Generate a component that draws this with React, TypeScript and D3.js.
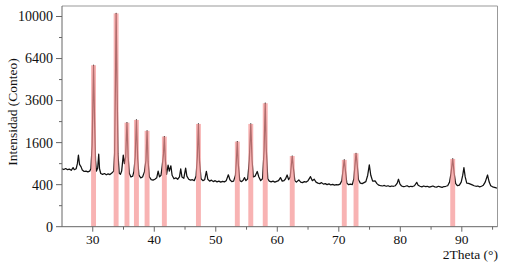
import React from "react";
import * as d3 from "d3";

const W = 507;
const H = 264;

// Reference bars (2θ position, intensity)
const barPos = [30.13, 33.8, 35.56, 37.1, 38.83, 41.64, 47.18, 53.5, 55.69, 58.04, 62.43, 70.89, 72.8, 88.52];
const barVal = [5900, 10300, 2450, 2580, 2080, 1840, 2390, 1640, 2390, 3450, 1130, 1010, 1220, 1040];

// Diffraction pattern (2θ, counts)
const pattern: [number, number][] = [
  [25.0, 760], [25.3, 740], [25.6, 765], [25.9, 735], [26.2, 750], [26.5, 720], [26.8, 790], [27.0, 735],
  [27.3, 760], [27.5, 900], [27.67, 1160], [27.85, 880], [28.1, 810], [28.3, 730], [28.6, 690], [28.9, 700],
  [29.2, 680], [29.5, 700], [29.7, 760], [29.9, 1500], [30.0, 3000], [30.13, 5900], [30.3, 2500], [30.45, 1000],
  [30.6, 700], [30.8, 780], [30.97, 1190], [31.1, 760], [31.3, 640], [31.6, 620], [31.9, 640], [32.2, 610],
  [32.5, 630], [32.8, 615], [33.1, 650], [33.4, 700], [33.55, 1200], [33.7, 5000], [33.8, 10300], [33.95, 4500],
  [34.1, 1200], [34.3, 650], [34.5, 620], [34.7, 700], [34.96, 1160], [35.15, 900], [35.35, 1100], [35.56, 2450],
  [35.75, 1100], [35.95, 640], [36.2, 560], [36.5, 580], [36.7, 700], [36.9, 1100], [37.1, 2580], [37.3, 1050],
  [37.5, 600], [37.8, 540], [38.1, 560], [38.4, 680], [38.65, 1000], [38.83, 2080], [39.0, 950], [39.2, 560],
  [39.5, 500], [39.8, 490], [40.1, 510], [40.4, 540], [40.63, 700], [40.85, 560], [41.1, 600], [41.3, 850],
  [41.5, 1200], [41.64, 1840], [41.8, 1000], [42.0, 620], [42.25, 860], [42.45, 700], [42.7, 840], [42.9, 600],
  [43.2, 520], [43.5, 540], [43.8, 510], [44.1, 560], [44.3, 755], [44.5, 560], [44.8, 530], [45.1, 775],
  [45.3, 580], [45.6, 510], [45.9, 490], [46.2, 500], [46.5, 480], [46.8, 580], [47.0, 1100], [47.18, 2390],
  [47.35, 1000], [47.6, 520], [47.9, 480], [48.2, 500], [48.47, 690], [48.7, 510], [49.0, 470], [49.3, 490],
  [49.6, 460], [49.9, 480], [50.2, 455], [50.5, 470], [50.8, 450], [51.1, 465], [51.4, 455], [51.7, 480],
  [52.04, 610], [52.3, 500], [52.6, 460], [52.9, 470], [53.2, 600], [53.35, 1000], [53.5, 1640], [53.65, 900],
  [53.9, 480], [54.2, 460], [54.45, 490], [54.68, 545], [54.9, 480], [55.2, 520], [55.45, 1000], [55.69, 2390],
  [55.9, 1000], [56.1, 560], [56.4, 580], [56.74, 690], [57.0, 560], [57.3, 480], [57.6, 520], [57.85, 1300],
  [58.04, 3450], [58.2, 1400], [58.45, 520], [58.7, 470], [59.0, 455], [59.3, 470], [59.6, 450], [59.9, 465],
  [60.2, 480], [60.52, 545], [60.8, 470], [61.1, 480], [61.35, 520], [61.6, 605], [61.85, 500], [62.1, 560],
  [62.25, 800], [62.43, 1130], [62.6, 800], [62.85, 480], [63.1, 450], [63.5, 495], [63.8, 450], [64.1, 440],
  [64.4, 460], [64.7, 450], [65.0, 480], [65.4, 567], [65.7, 480], [66.0, 510], [66.3, 450], [66.6, 430],
  [66.9, 420], [67.2, 440], [67.5, 410], [67.8, 420], [68.1, 400], [68.4, 415], [68.7, 395], [69.0, 405],
  [69.3, 390], [69.6, 400], [69.9, 395], [70.2, 410], [70.5, 480], [70.7, 750], [70.89, 1010], [71.05, 750],
  [71.3, 430], [71.6, 400], [71.9, 410], [72.2, 400], [72.45, 520], [72.65, 900], [72.8, 1220], [72.95, 950],
  [73.2, 500], [73.5, 430], [73.8, 420], [74.1, 440], [74.4, 460], [74.7, 600], [74.96, 865], [75.2, 600],
  [75.5, 470], [75.9, 475], [76.2, 420], [76.5, 390], [76.8, 380], [77.1, 375], [77.4, 385], [77.7, 370],
  [78.0, 380], [78.3, 365], [78.6, 375], [78.9, 370], [79.2, 380], [79.5, 430], [79.7, 510], [79.95, 410],
  [80.2, 375], [80.5, 365], [80.8, 370], [81.1, 380], [81.4, 360], [81.7, 370], [82.0, 365], [82.3, 380],
  [82.67, 445], [82.9, 390], [83.2, 370], [83.5, 360], [83.8, 375], [84.1, 365], [84.4, 370], [84.7, 355],
  [85.0, 365], [85.3, 375], [85.6, 360], [85.9, 355], [86.2, 370], [86.5, 360], [86.8, 350], [87.1, 365],
  [87.4, 370], [87.7, 380], [88.0, 450], [88.25, 650], [88.52, 1040], [88.75, 650], [89.0, 420], [89.3, 380],
  [89.6, 390], [89.9, 450], [90.15, 600], [90.34, 790], [90.55, 560], [90.8, 430], [91.1, 425], [91.4, 410],
  [91.7, 395], [92.0, 380], [92.3, 370], [92.6, 375], [92.9, 360], [93.2, 370], [93.5, 390], [93.8, 450],
  [94.18, 605], [94.45, 450], [94.7, 380], [95.0, 360], [95.3, 350], [95.6, 340], [95.8, 335],
];

const yMajor = [0, 400, 1600, 3600, 6400, 10000];
const yMinor = [100, 900, 2500, 4900, 8100];
const xMajor = [30, 40, 50, 60, 70, 80, 90];
const xMinor = [35, 45, 55, 65, 75, 85, 95];

const left = 62;
const right = 497.5;
const top = 6;
const bottom = 226.7;

export default function App() {
  const x = d3.scaleLinear().domain([25, 95.8]).range([left, right]);
  const y = d3.scaleSqrt().domain([0, 11025]).range([bottom, top]);
  const line = d3
    .line<[number, number]>()
    .x((d) => x(d[0]))
    .y((d) => y(d[1]));
  const barW = x(25.8) - x(25);
  const font = "'Liberation Serif', 'DejaVu Serif', serif";
  const axisColor = "#666";

  return (
    <svg
      width={W}
      height={H}
      style={{ position: "absolute", left: 0, top: 0, background: "#fff" }}
      fontFamily={font}
    >
      <rect x={0} y={0} width={W} height={H} fill="#fff" />
      <defs>
        <clipPath id="plot">
          <rect x={left} y={top} width={right - left} height={bottom - top} />
        </clipPath>
      </defs>
      <g clipPath="url(#plot)">
        <path d={line(pattern) || ""} fill="none" stroke="#111" strokeWidth={1.25} strokeLinejoin="round" />
        {barPos.map((p, i) => (
          <rect
            key={i}
            x={x(p) - barW / 2}
            y={y(barVal[i])}
            width={barW}
            height={bottom - y(barVal[i])}
            fill="#f59393"
            fillOpacity={0.7}
          />
        ))}
      </g>
      {/* frame */}
      <line x1={left} y1={top} x2={right} y2={top} stroke="#999" strokeWidth={1} />
      <line x1={right} y1={top} x2={right} y2={bottom} stroke="#999" strokeWidth={1} />
      <line x1={left} y1={top} x2={left} y2={bottom} stroke={axisColor} strokeWidth={1} />
      <line x1={left} y1={bottom} x2={right} y2={bottom} stroke={axisColor} strokeWidth={1} />
      {/* y ticks */}
      {yMajor.map((v) => (
        <g key={"ym" + v}>
          <line x1={left - 6} x2={left} y1={y(v)} y2={y(v)} stroke={axisColor} />
          <text x={left - 9} y={y(v)} dy="0.35em" textAnchor="end" fontSize={14} fill="#111">
            {v}
          </text>
        </g>
      ))}
      {yMinor.map((v) => (
        <line key={"yn" + v} x1={left - 3} x2={left} y1={y(v)} y2={y(v)} stroke={axisColor} />
      ))}
      {/* x ticks */}
      {xMajor.map((v) => (
        <g key={"xm" + v}>
          <line x1={x(v)} x2={x(v)} y1={bottom} y2={bottom + 5} stroke={axisColor} />
          <text x={x(v)} y={bottom + 17} textAnchor="middle" fontSize={13.5} fill="#111">
            {v}
          </text>
        </g>
      ))}
      {xMinor.map((v) => (
        <line key={"xn" + v} x1={x(v)} x2={x(v)} y1={bottom} y2={bottom + 3} stroke={axisColor} />
      ))}
      <text
        transform={`translate(17, 112) rotate(-90)`}
        textAnchor="middle"
        fontSize={13.5}
        fill="#111"
      >
        Intensidad (Conteo)
      </text>
      <text x={498} y={259} textAnchor="end" fontSize={13.5} fill="#111">
        2Theta (°)
      </text>
    </svg>
  );
}
